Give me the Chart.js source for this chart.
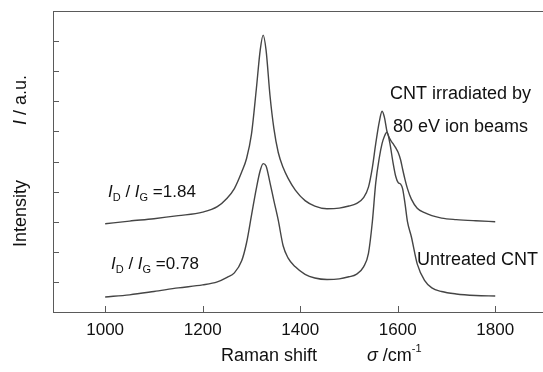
<!DOCTYPE html>
<html>
<head>
<meta charset="utf-8">
<script src="https://cdn.jsdelivr.net/npm/chart.js@4.4.0/dist/chart.umd.min.js"></script>
<style>
    body { margin: 0; background: #fff; }
    #contenedor { width: 543px; height: 372px; position: relative; }
</style>
</head>
<body>
<div id="contenedor"><canvas id="ramanChart"></canvas></div>
<script>
// Raman shift (cm-1)
var shift = [1000, 1050, 1100, 1150, 1200, 1230, 1250, 1265, 1280, 1290, 1300, 1310, 1318, 1324, 1330,
    1338, 1346, 1355, 1365, 1375, 1390, 1410, 1430, 1455, 1480, 1500, 1515, 1530, 1540, 1548,
    1555, 1562, 1568, 1573, 1578, 1584, 1590, 1596, 1601, 1606, 1610, 1615, 1620, 1628, 1640,
    1655, 1670, 1690, 1720, 1760, 1800];

// CNT irradiated by 80 eV ion beams
var irradiated = [2.93, 3.02, 3.10, 3.20, 3.32, 3.50, 3.78, 4.10, 4.65, 5.10, 5.90, 7.40, 8.70, 9.20, 8.70,
    7.20, 6.10, 5.30, 4.80, 4.45, 4.05, 3.70, 3.52, 3.43, 3.45, 3.52, 3.60, 3.80, 4.15, 4.80,
    5.60, 6.30, 6.67, 6.45, 6.00, 5.75, 5.60, 5.45, 5.30, 5.05, 4.75, 4.40, 4.10, 3.75, 3.45,
    3.30, 3.20, 3.12, 3.07, 3.03, 3.00];

// Untreated CNT
var untreated = [0.50, 0.57, 0.68, 0.80, 0.90, 1.00, 1.15, 1.30, 1.70, 2.30, 3.20, 4.10, 4.70, 4.93, 4.85,
    4.30, 3.70, 3.05, 2.20, 1.80, 1.50, 1.25, 1.13, 1.08, 1.10, 1.17, 1.25, 1.50, 1.95, 3.00,
    4.30, 5.10, 5.60, 5.85, 5.97, 5.60, 5.00, 4.50, 4.30, 4.25, 4.10, 3.60, 3.00, 2.50, 1.60,
    1.05, 0.80, 0.68, 0.60, 0.55, 0.53];

var xTicks = [1000, 1200, 1400, 1600, 1800];
var yTicks = [1, 2, 3, 4, 5, 6, 7, 8, 9];

var colorLinea = '#454545';
var colorEje = '#5a5a5a';
var fuente = '"Liberation Sans", Arial, sans-serif';

function puntos(serie) {
    return shift.map(function(s, i) { return { x: s, y: serie[i] }; });
}

// escribe textos con partes en cursiva / subindice
function escribir(ctx, x, y, partes) {
    partes.forEach(function(p) {
        ctx.font = (p.italic ? 'italic ' : '') + p.size + 'px ' + fuente;
        ctx.fillText(p.t, x, y + (p.dy || 0));
        x += ctx.measureText(p.t).width;
    });
}

var decoracion = {
    id: 'decoracion',
    afterDraw: function(chart) {
        var ctx = chart.ctx;
        var area = chart.chartArea;
        var sx = chart.scales.x, sy = chart.scales.y;
        ctx.save();
        ctx.strokeStyle = colorEje;
        ctx.lineWidth = 1;
        ctx.beginPath();
        ctx.moveTo(area.left, Math.round(area.top) + 0.5);
        ctx.lineTo(area.right, Math.round(area.top) + 0.5);
        xTicks.forEach(function(v) {
            var px = Math.round(sx.getPixelForValue(v)) + 0.5;
            ctx.moveTo(px, area.bottom);
            ctx.lineTo(px, area.bottom - 6);
        });
        yTicks.forEach(function(v) {
            var py = Math.round(sy.getPixelForValue(v)) + 0.5;
            ctx.moveTo(area.left, py);
            ctx.lineTo(area.left + 6, py);
        });
        ctx.stroke();

        ctx.fillStyle = '#111';
        ctx.textBaseline = 'alphabetic';
        ctx.textAlign = 'left';

        // etiquetas de relacion ID/IG
        escribir(ctx, 108, 197, [
            { t: 'I', italic: true, size: 17 }, { t: 'D', size: 11, dy: 4 },
            { t: ' / ', size: 17 }, { t: 'I', italic: true, size: 17 }, { t: 'G', size: 11, dy: 4 },
            { t: ' =1.84', size: 17 }
        ]);
        escribir(ctx, 111, 269, [
            { t: 'I', italic: true, size: 17 }, { t: 'D', size: 11, dy: 4 },
            { t: ' / ', size: 17 }, { t: 'I', italic: true, size: 17 }, { t: 'G', size: 11, dy: 4 },
            { t: ' =0.78', size: 17 }
        ]);

        ctx.font = '18px ' + fuente;
        ctx.fillText('CNT irradiated by', 390, 99);
        ctx.fillText('80 eV ion beams', 393, 132);
        ctx.fillText('Untreated CNT', 417, 265);

        // titulo eje x
        ctx.fillText('Raman shift', 221, 361);
        escribir(ctx, 367, 361, [
            { t: '\u03c3', italic: true, size: 18 }, { t: ' /cm', size: 18 }, { t: '-1', size: 11, dy: -9 }
        ]);

        // titulo eje y (rotado)
        ctx.save();
        ctx.translate(26, 247);
        ctx.rotate(-Math.PI / 2);
        ctx.font = '18px ' + fuente;
        ctx.fillText('Intensity', 0, 0);
        ctx.restore();
        ctx.save();
        ctx.translate(26, 125);
        ctx.rotate(-Math.PI / 2);
        escribir(ctx, 0, 0, [{ t: 'I', italic: true, size: 18 }, { t: ' / a.u.', size: 18 }]);
        ctx.restore();

        ctx.restore();
    }
};

var ctx = document.getElementById('ramanChart').getContext('2d');
new Chart(ctx, {
    type: 'line',
    data: {
        datasets: [
            {
                label: 'CNT irradiated by 80 eV ion beams',
                data: puntos(irradiated),
                borderColor: colorLinea,
                borderWidth: 1.4,
                pointRadius: 0,
                cubicInterpolationMode: 'monotone'
            }, {
                label: 'Untreated CNT',
                data: puntos(untreated),
                borderColor: colorLinea,
                borderWidth: 1.4,
                pointRadius: 0,
                cubicInterpolationMode: 'monotone'
            }
        ]
    },
    options: {
        responsive: true,
        maintainAspectRatio: false,
        animation: false,
        layout: { padding: { top: 11, right: 0, left: 0, bottom: 0 } },
        plugins: { legend: { display: false }, tooltip: { enabled: false } },
        scales: {
            x: {
                type: 'linear',
                min: 893,
                max: 1898,
                afterBuildTicks: function(scale) {
                    scale.ticks = xTicks.map(function(v) { return { value: v }; });
                },
                afterFit: function(scale) { scale.height = 60; },
                grid: { display: false, drawTicks: false },
                border: { display: true, color: colorEje, width: 1 },
                ticks: {
                    padding: 8,
                    color: '#111',
                    font: { family: fuente, size: 17 },
                    maxRotation: 0,
                    callback: function(v) { return String(v); }
                }
            },
            y: {
                min: 0,
                max: 10,
                afterFit: function(scale) { scale.width = 53; },
                grid: { display: false, drawTicks: false },
                border: { display: true, color: colorEje, width: 1 },
                ticks: { display: false }
            }
        }
    },
    plugins: [decoracion]
});
</script>
</body>
</html>
